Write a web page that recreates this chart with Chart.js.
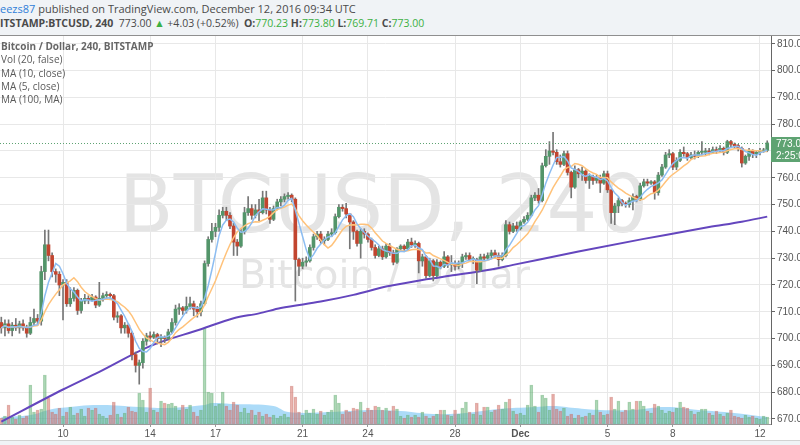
<!DOCTYPE html>
<html>
<head>
<meta charset="utf-8">
<script src="https://cdn.jsdelivr.net/npm/chart.js@4.4.1/dist/chart.umd.min.js"></script>
<style>
	body { margin: 0; width: 800px; height: 445px; overflow: hidden; background: #fff; position: relative; font-family: 'Open Sans', sans-serif; }
	#btcChart { position: absolute; left: 0; top: 0; }
	#head { position: absolute; left: 0; top: 0; width: 800px; height: 35px; background: #f0f3f6; border-bottom: 1px solid #8f8f8f; color: #4a4a4a; font-size: 10.5px; white-space: nowrap; overflow: hidden; }
	#head .l1 { position: absolute; left: 0; top: 1px; font-size: 11px; }
	#head .l2 { position: absolute; left: -7px; top: 16px; }
	#head .user { color: #2f7ed8; }
	#head .g { color: #3cb043; }
	#foot { position: absolute; left: 0; top: 440px; width: 800px; height: 5px; background: #f0f3f6; border-top: 1px solid #d2d2d2; }
	#legend { position: absolute; left: 1px; top: 40px; color: #5a5a5a; font-size: 10px; line-height: 13.3px; white-space: nowrap; }
	#legend b { color: #666; }
</style>
</head>
<body>
<canvas id="btcChart" width="800" height="445"></canvas>
<div id="head">
	<div class="l1"><span class="user">eezs87</span> published on TradingView.com, December 12, 2016 09:34 UTC</div>
	<div class="l2"><b>BITSTAMP:BTCUSD, 240</b>&nbsp; 773.00 <span class="g">&#9650;</span> +4.03 (+0.52%) &nbsp;<b>O:</b><span class="g">770.23</span> <b>H:</b><span class="g">773.80</span> <b>L:</b><span class="g">769.71</span> <b>C:</b><span class="g">773.00</span></div>
</div>
<div id="legend">
	<b>Bitcoin / Dollar, 240, BITSTAMP</b><br>
	Vol (20, false)<br>
	MA (10, close)<br>
	MA (5, close)<br>
	MA (100, MA)
</div>
<div id="foot"></div>
<script>
// x axis: one unit per 4h candle, ticks at day starts
var tickIdx = [17, 41, 59, 83, 101, 125, 143, 167, 185, 209];
var tickLabels = ['10', '14', '17', '21', '24', '28', 'Dec', '5', '8', '12'];
var yTicks = [670, 680, 690, 700, 710, 720, 730, 740, 750, 760, 770, 780, 790, 800, 810];

var opens = [
	706, 704, 705.5, 703, 705, 704, 705.5, 704, 702, 706,
	707.5, 706.5, 725, 735, 731, 725, 724, 720, 721, 713,
	715, 718, 710.5, 714, 715, 714.5, 715.5, 712.5, 715, 716,
	716.5, 716, 708, 708.5, 704, 705, 702, 694, 690, 691,
	699, 701, 700.5, 701.5, 700, 700.5, 700, 702.5, 706, 711,
	711.5, 710.5, 712, 713, 711, 710, 713, 728, 737, 740,
	741.5, 746, 747.5, 746, 742, 736, 734.5, 740, 747, 748.5,
	746, 748, 747, 752.5, 748, 744.5, 748.5, 751, 752, 753,
	753.5, 752, 729.5, 727, 728.5, 729, 734, 738, 739, 736.5,
	737, 739, 739.5, 745.5, 749, 748.5, 746.5, 743.5, 740, 735.5,
	740, 739, 737, 734, 731, 733.5, 730.5, 734.5, 732, 728.5,
	733.5, 734.5, 733.5, 736, 735, 735.5, 729, 730.5, 723.5, 729,
	723.5, 728.5, 727, 730.5, 727.5, 728, 727, 728, 730.5, 731,
	729.5, 729.5, 725.5, 730.5, 730, 731, 732, 731, 729.5, 731,
	742.5, 740, 742, 741, 743.5, 744.5, 746, 752.5, 753.5, 751.5,
	764.5, 768, 770, 769.5, 766, 765, 769, 762, 756.5, 763,
	761.5, 762.5, 759, 760.5, 759, 760, 758, 761.5, 755.5, 747,
	749.5, 751.5, 750.5, 750, 751.5, 753, 752, 757, 758.5, 758,
	758.5, 754.5, 761, 764, 768.5, 769, 764, 766.5, 769.5, 769,
	767.5, 768.5, 768, 769.5, 769.5, 770, 769.5, 770.5, 770, 771,
	769.5, 773.5, 772.5, 772, 771, 765.5, 768, 770, 769, 769.5,
	770, 770.23
];
var highs = [
	708, 707, 707, 706, 707.5, 706.5, 707, 705, 708, 711,
	709, 727, 740.5, 740.5, 732, 726, 725, 722, 722, 719,
	719, 718.5, 715, 716.5, 716, 716.5, 716, 721, 717, 717.5,
	717, 716.5, 710, 709, 706, 705.5, 702.5, 695, 692, 700,
	702, 702.5, 702.5, 702, 701.5, 701, 703.5, 707.5, 712.5, 713,
	712, 715.5, 715.5, 714, 712, 714, 729, 738, 743, 743,
	748, 749, 749, 747, 743, 737, 741, 749, 753, 750,
	750, 752, 755, 755, 749, 749.5, 752, 753, 754, 754.5,
	754, 752.5, 730, 730, 730.5, 735, 739, 740, 740, 738,
	740, 741, 746.5, 750, 750, 750.5, 746.5, 744, 740.5, 741,
	741, 739.5, 737.5, 735, 734.5, 734.5, 735.5, 735.5, 733, 734,
	735, 735, 737, 737.5, 736.5, 736, 731.5, 731, 730, 729.5,
	729.5, 729, 732.5, 731, 731, 729, 729, 731.5, 732, 732,
	730.5, 730, 731.5, 731.5, 732, 733, 733, 732, 732, 744,
	743.5, 743, 743.5, 744, 745.5, 747, 753.5, 754.5, 756, 765.5,
	770.5, 773.5, 777, 770.5, 768.5, 770, 770, 762.5, 764.5, 763.5,
	764, 763, 761.5, 761, 761, 761, 762.5, 762.5, 755.5, 750.5,
	752.5, 752, 751, 752.5, 754, 753.5, 758, 759.5, 759.5, 759,
	759, 762, 765, 769.5, 770.5, 769.5, 767.5, 770.5, 771.5, 769.5,
	769.5, 770, 770, 773.5, 771, 771, 771.5, 771.5, 772, 771.5,
	774, 774, 773, 772.5, 771.5, 768.5, 771, 770.5, 770, 771,
	771, 773.8
];
var lows = [
	702, 701, 702, 701, 703, 702, 703, 700.5, 701.5, 705,
	705, 705, 722, 729, 723, 721, 716, 707, 712, 712,
	714, 709, 709.5, 713, 713, 714, 711.5, 712, 714, 715,
	715, 707, 706, 702, 702, 700.5, 692, 687.5, 683, 689,
	697.5, 699, 700, 698, 697, 698.5, 699.5, 702, 705, 709,
	709, 709.5, 711, 708.5, 708, 708.5, 712.5, 727, 736, 738,
	740, 745, 744, 741, 731, 731, 734, 739, 746, 744.5,
	745, 744, 746.5, 746.5, 743, 744, 748, 749.5, 751, 752,
	751, 714, 723.5, 726, 727, 728.5, 733, 737, 735.5, 735,
	736.5, 738, 739, 745, 747.5, 745, 733.5, 737, 734.5, 730,
	737.5, 736, 733, 730, 730.5, 729.5, 730, 731, 727.5, 728,
	733, 732.5, 733, 734, 734, 724.5, 727, 722.5, 723, 721.5,
	723, 726, 726.5, 726.5, 725, 725.5, 726, 726.5, 729.5, 729,
	728, 720.5, 725, 729, 729.5, 730, 730, 727, 729, 730.5,
	739, 739.5, 740, 740.5, 743, 744, 745.5, 751.5, 750.5, 751,
	764, 765, 768.5, 765, 764, 764.5, 761, 752.5, 756, 760,
	759, 758, 756, 757.5, 758, 754.5, 757.5, 754.5, 743, 742.5,
	747, 749.5, 749, 749, 748, 751, 751.5, 756.5, 757, 757.5,
	752, 753.5, 760.5, 763.5, 767.5, 763, 763, 766, 768, 766.5,
	767, 767, 767.5, 768.5, 768.5, 768.5, 769, 769, 769.5, 768.5,
	769, 771.5, 771, 770, 764, 765, 766.5, 767.5, 767.5, 768.5,
	769.5, 769.71
];
var closes = [
	704, 705.5, 703, 705, 704, 705.5, 704, 702, 706, 707.5,
	706.5, 725, 735, 731, 725, 724, 720, 721, 713, 715,
	718, 710.5, 714, 715, 714.5, 715.5, 712.5, 715, 716, 716.5,
	716, 708, 708.5, 704, 705, 702, 694, 690, 691, 699,
	701, 700.5, 701.5, 700, 700.5, 700, 702.5, 706, 711, 711.5,
	710.5, 712, 713, 711, 710, 713, 728, 737, 740, 741.5,
	746, 747.5, 746, 742, 736, 734.5, 740, 747, 748.5, 746,
	748, 747, 752.5, 748, 744.5, 748.5, 751, 752, 753, 753.5,
	752, 729.5, 727, 728.5, 729, 734, 738, 739, 736.5, 737,
	739, 739.5, 745.5, 749, 748.5, 746.5, 743.5, 740, 735.5, 740,
	739, 737, 734, 731, 733.5, 730.5, 734.5, 732, 728.5, 733.5,
	734.5, 733.5, 736, 735, 735.5, 729, 730.5, 723.5, 729, 723.5,
	728.5, 727, 730.5, 727.5, 728, 727, 728, 730.5, 731, 729.5,
	729.5, 725.5, 730.5, 730, 731, 732, 731, 729.5, 731, 742.5,
	740, 742, 741, 743.5, 744.5, 746, 752.5, 753.5, 751.5, 764.5,
	768, 770, 769.5, 766, 765, 769, 762, 756.5, 763, 761.5,
	762.5, 759, 760.5, 759, 760, 758, 761.5, 755.5, 747, 749.5,
	751.5, 750.5, 750, 751.5, 753, 752, 757, 758.5, 758, 758.5,
	754.5, 761, 764, 768.5, 769, 764, 766.5, 769.5, 769, 767.5,
	768.5, 768, 769.5, 769.5, 770, 769.5, 770.5, 770, 771, 769.5,
	773.5, 772.5, 772, 771, 765.5, 768, 770, 769, 769.5, 770,
	770.23, 773
];
var volumes = [
	6, 8, 19, 7, 5, 9, 6, 8, 39, 12,
	14, 15, 49, 26, 12, 10, 16, 8, 12, 17,
	9, 11, 15, 8, 16, 14, 16, 10, 8, 6,
	9, 22, 10, 7, 11, 17, 13, 12, 31, 24,
	12, 36, 14, 12, 23, 21, 20, 21, 18, 14,
	19, 15, 19, 12, 8, 14, 96, 32, 31, 18,
	20, 32, 18, 14, 22, 19, 12, 16, 11, 14,
	9, 12, 8, 10, 7, 9, 6, 8, 10, 7,
	38, 27, 12, 9, 14, 11, 15, 10, 13, 9,
	12, 14, 29, 21, 10, 14, 12, 16, 15, 22,
	12, 16, 14, 18, 17, 14, 16, 13, 18, 15,
	8, 6, 9, 7, 9, 7, 12, 8, 6, 8,
	10, 14, 14, 9, 8, 14, 10, 16, 22, 12,
	10, 21, 9, 17, 17, 12, 14, 19, 15, 22,
	25, 13, 10, 11, 9, 19, 39, 18, 12, 29,
	26, 14, 30, 15, 13, 16, 8, 10, 6, 9,
	7, 8, 11, 9, 24, 12, 9, 10, 27, 15,
	23, 12, 14, 22, 15, 23, 23, 18, 13, 11,
	20, 18, 14, 11, 13, 12, 16, 22, 17, 16,
	13, 10, 12, 15, 15, 11, 9, 13, 10, 8,
	11, 14, 8, 7, 6, 9, 7, 8, 6, 5,
	8, 7
];

// Vol (20) average, read at a few candles
var volMaIdx = [0, 8, 13, 16, 27, 38, 46, 56, 58, 64, 75, 79, 91, 101, 110, 119, 128, 137, 147, 152, 158, 165, 174, 183, 192, 202, 211];
var volMaVals = [7, 9, 14, 16, 19, 17, 16, 19, 21, 20, 18, 12, 12, 14, 13, 10, 11, 15, 17, 18, 16, 14, 14, 17, 14, 11, 7];

// MA (100)
var ma100Idx = [0, 17, 27, 41, 55, 64, 71, 77, 88, 97, 106, 116, 125, 134, 141, 159, 177, 186, 195, 204, 211];
var ma100Vals = [669, 681, 687.6, 697.2, 703.5, 707.6, 709.4, 711.4, 713.8, 716.3, 719.4, 721.9, 723.7, 725.6, 727.5, 732.5, 737.2, 739.4, 741.6, 743.6, 745.5];

var lastPrice = 773.00;
var countdown = '2:25:07';

////////////////////////////////////////////////////////////////////////////////

var colors = {
	up: '#53956a',
	down: '#c2452f',
	wick: '#767676',
	volUp: 'rgba(120, 195, 135, 0.3)',
	volUpLine: 'rgba(95, 170, 110, 0.55)',
	volDown: 'rgba(225, 120, 110, 0.3)',
	volDownLine: 'rgba(200, 110, 100, 0.55)',
	volMa: 'rgba(70, 175, 240, 0.45)',
	ma5: '#8cbdf2',
	ma10: '#ffc27a',
	ma100: '#6446be',
	grid: '#e8e8e8',
	label: '#555555',
	priceTag: '#5ea372'
};

function movingAverage(period) {
	return closes.map(function (c, i) {
		var win = closes.slice(Math.max(0, i - period + 1), i + 1);
		var sum = win.reduce(function (a, b) { return a + b; }, 0);
		return { x: i, y: sum / win.length };
	});
}

function isUp(i) {
	return closes[i] >= opens[i];
}

// faint symbol name behind the chart
var watermark = {
	id: 'watermark',
	beforeDraw: function (chart) {
		var ctx = chart.ctx, a = chart.chartArea;
		var cx = (a.left + a.right) / 2;
		ctx.save();
		ctx.fillStyle = '#e4e4e4';
		ctx.textAlign = 'center';
		ctx.textBaseline = 'alphabetic';
		ctx.font = '80px "DejaVu Sans"';
		ctx.fillText('BTCUSD, 240', cx - 2, a.top + 196);
		ctx.font = '39.5px "DejaVu Sans"';
		ctx.fillText('Bitcoin / Dollar', cx - 1, a.top + 252);
		ctx.restore();
	}
};

// dotted last price line and the tag on the price axis
var priceTag = {
	id: 'priceTag',
	afterDatasetsDraw: function (chart) {
		var ctx = chart.ctx, a = chart.chartArea;
		var py = Math.round(chart.scales.y.getPixelForValue(lastPrice)) + 0.5;
		ctx.save();
		ctx.strokeStyle = colors.priceTag;
		ctx.lineWidth = 1;
		ctx.setLineDash([1, 2]);
		ctx.beginPath();
		ctx.moveTo(a.left, py);
		ctx.lineTo(a.right, py);
		ctx.stroke();
		ctx.restore();
	},
	afterDraw: function (chart) {
		var ctx = chart.ctx, a = chart.chartArea;
		var py = Math.round(chart.scales.y.getPixelForValue(lastPrice));
		ctx.save();
		ctx.fillStyle = colors.priceTag;
		ctx.fillRect(a.right, py - 6, chart.width - a.right, 25);
		ctx.fillStyle = '#ffffff';
		ctx.font = '10px "Liberation Sans"';
		ctx.textBaseline = 'middle';
		ctx.textAlign = 'left';
		ctx.fillText(lastPrice.toFixed(2), a.right + 5, py + 1);
		ctx.fillText(countdown, a.right + 5, py + 13);
		ctx.restore();
	}
};

var config = {
	type: 'bar',
	data: {
		datasets: [{
			type: 'line',
			label: 'Vol MA',
			yAxisID: 'vol',
			data: volMaIdx.map(function (x, k) { return { x: x, y: volMaVals[k] }; }),
			fill: 'origin',
			backgroundColor: colors.volMa,
			borderWidth: 0,
			pointRadius: 0,
			tension: 0.4,
			order: 7
		}, {
			label: 'Vol (20, false)',
			yAxisID: 'vol',
			data: volumes.map(function (v, i) { return { x: i, y: v }; }),
			backgroundColor: volumes.map(function (v, i) { return isUp(i) ? colors.volUp : colors.volDown; }),
			borderColor: volumes.map(function (v, i) { return isUp(i) ? colors.volUpLine : colors.volDownLine; }),
			borderWidth: 1,
			borderSkipped: false,
			barThickness: 3,
			grouped: false,
			order: 6
		}, {
			type: 'line',
			label: 'MA (100, MA)',
			data: ma100Idx.map(function (x, k) { return { x: x, y: ma100Vals[k] }; }),
			borderColor: colors.ma100,
			borderWidth: 2,
			pointRadius: 0,
			cubicInterpolationMode: 'monotone',
			order: 5
		}, {
			label: 'wicks',
			data: lows.map(function (l, i) { return { x: i, y: [l, highs[i]] }; }),
			backgroundColor: colors.wick,
			barThickness: 1,
			grouped: false,
			order: 4
		}, {
			label: 'BTCUSD',
			data: opens.map(function (o, i) { return { x: i, y: [o, closes[i]] }; }),
			backgroundColor: opens.map(function (o, i) { return isUp(i) ? colors.up : colors.down; }),
			barThickness: 3,
			minBarLength: 1,
			grouped: false,
			order: 3
		}, {
			type: 'line',
			label: 'MA (10, close)',
			data: movingAverage(10),
			borderColor: colors.ma10,
			borderWidth: 1.5,
			pointRadius: 0,
			order: 2
		}, {
			type: 'line',
			label: 'MA (5, close)',
			data: movingAverage(5),
			borderColor: colors.ma5,
			borderWidth: 1.5,
			pointRadius: 0,
			order: 1
		}]
	},
	options: {
		responsive: false,
		animation: false,
		layout: { padding: { top: 36, bottom: 5, left: 0, right: 0 } },
		plugins: {
			legend: { display: false },
			tooltip: { enabled: false }
		},
		scales: {
			x: {
				type: 'linear',
				min: -0.36,
				max: 212.04,
				offset: false,
				grid: { color: colors.grid, tickLength: 3, tickColor: '#999', offset: false },
				border: { color: '#9a9a9a' },
				afterBuildTicks: function (s) {
					s.ticks = tickIdx.map(function (v) { return { value: v }; });
				},
				afterFit: function (s) { s.height = 16; },
				ticks: {
					autoSkip: false,
					maxRotation: 0,
					padding: 1,
					color: colors.label,
					font: function (c) {
						return { family: 'Liberation Sans', size: 10, weight: (c.tick && c.tick.value === 143) ? 'bold' : 'normal' };
					},
					callback: function (v) { return tickLabels[tickIdx.indexOf(v)]; }
				}
			},
			y: {
				position: 'right',
				min: 668.13,
				max: 812.9,
				grid: { color: colors.grid, tickLength: 4, tickColor: '#666' },
				border: { color: '#666' },
				afterBuildTicks: function (s) {
					s.ticks = yTicks.map(function (v) { return { value: v }; });
				},
				afterFit: function (s) { s.width = 29; },
				ticks: {
					padding: 2,
					color: colors.label,
					font: { family: 'Liberation Sans', size: 10 },
					callback: function (v) { return v.toFixed(2); }
				}
			},
			vol: {
				type: 'linear',
				axis: 'y',
				position: 'left',
				display: false,
				min: 0,
				max: 388
			}
		}
	},
	plugins: [watermark, priceTag]
};

var btcChart = new Chart(document.getElementById('btcChart'), config);
</script>
</body>
</html>
